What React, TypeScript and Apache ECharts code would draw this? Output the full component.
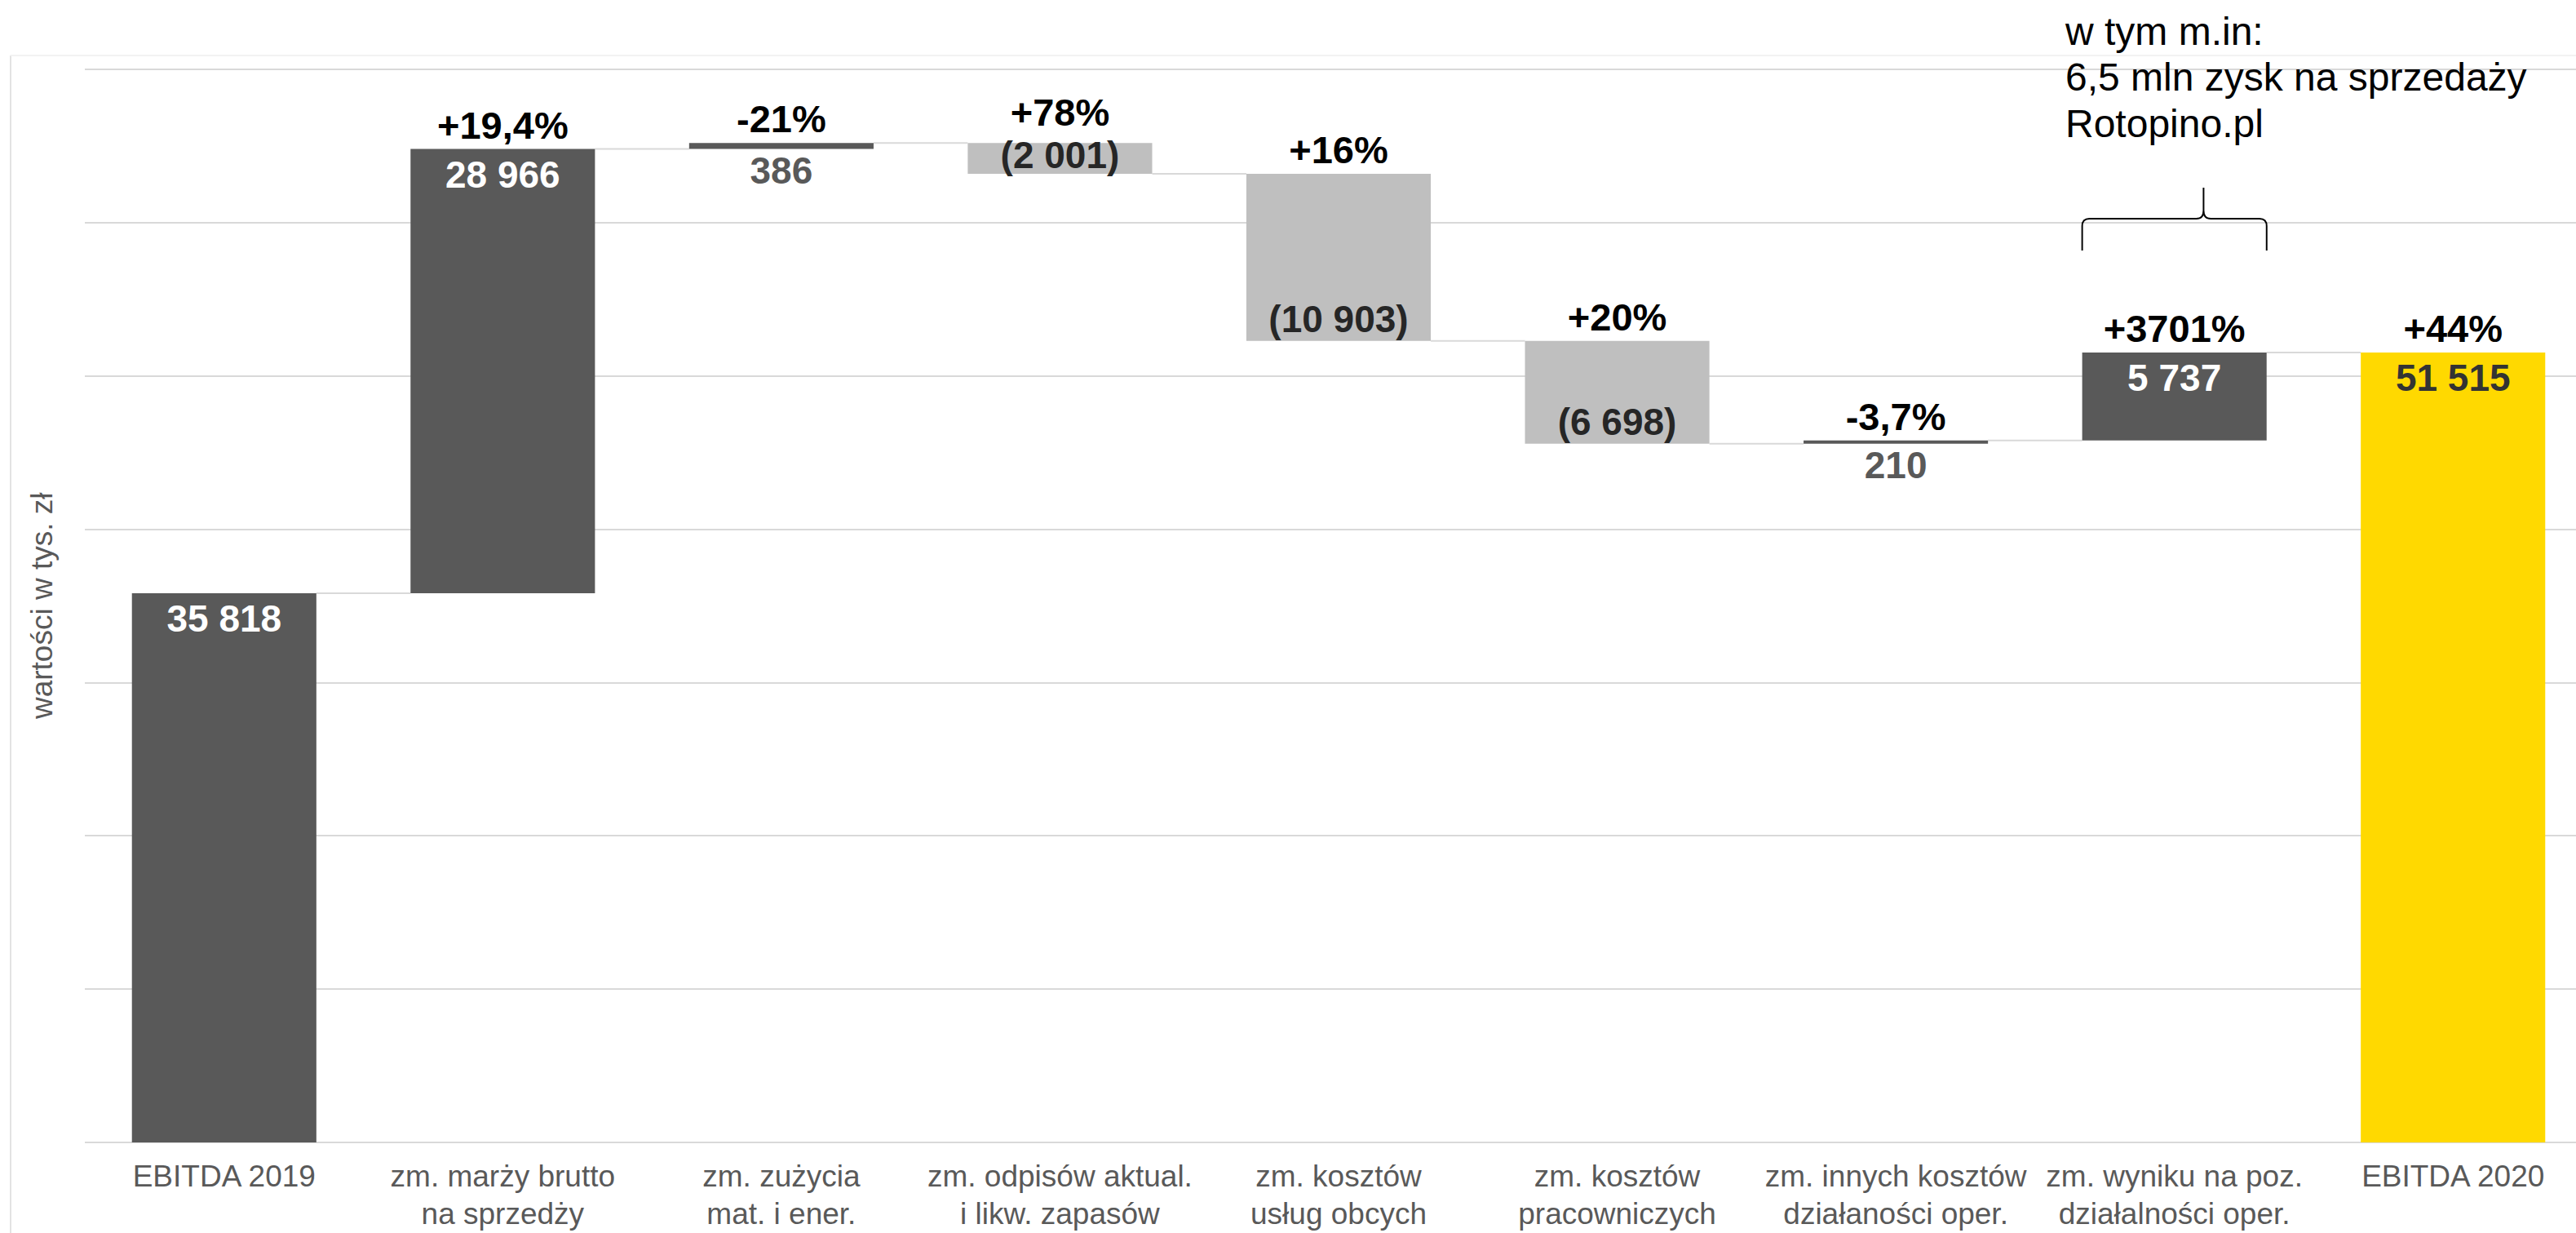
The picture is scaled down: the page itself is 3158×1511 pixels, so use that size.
import React, { useEffect, useRef } from "react";
import * as echarts from "echarts";

const categories = [
  "EBITDA 2019",
  "zm. marży brutto\nna sprzedży",
  "zm. zużycia\nmat. i ener.",
  "zm. odpisów aktual.\ni likw. zapasów",
  "zm. kosztów\nusług obcych",
  "zm. kosztów\npracowniczych",
  "zm. innych kosztów\ndziałaności oper.",
  "zm. wyniku na poz.\ndziałalności oper.",
  "EBITDA 2020",
];
const startValue = 35818;
const deltas = [28966, 386, -2001, -10903, -6698, 210, 5737];
const endValue = 51515;
const pctLabels = ["", "+19,4%", "-21%", "+78%", "+16%", "+20%", "-3,7%", "+3701%", "+44%"];
const yMin = 0;
const yMax = 70000;
const yInterval = 10000;
const yAxisName = "wartości w tys. zł";
const annotationLines = ["w tym m.in:", "6,5 mln zysk na sprzedaży", "Rotopino.pl"];
const annotatedIndex = 7;

const FONT = "'Liberation Sans', Arial, sans-serif";
const DARK = "#595959";
const LIGHT = "#bfbfbf";
const YELLOW = "#FFD900";
const GRID_COLOR = "#d9d9d9";

// brace shape, local units: width 231, height 77, tip at x=152
const BRACE_W = 231;
const BRACE_TIP = 152;
const braceD = `M0 77 L0 47 Q0 38 9 38 L${BRACE_TIP - 9} 38 Q${BRACE_TIP} 38 ${BRACE_TIP} 28 L${BRACE_TIP} 0 M${BRACE_TIP} 28 Q${BRACE_TIP} 38 ${BRACE_TIP + 9} 38 L${BRACE_W - 9} 38 Q${BRACE_W} 38 ${BRACE_W} 47 L${BRACE_W} 77`;
echarts.graphic.registerShape("brace", echarts.graphic.extendPath(braceD, {}));

function fmt(n: number): string {
  const s = String(Math.abs(n)).replace(/\B(?=(\d{3})+(?!\d))/g, " ");
  return n < 0 ? `(${s})` : s;
}

type Item = { base: number; h: number; signed: number; kind: string; end: number };

function buildItems(): Item[] {
  const items: Item[] = [{ base: 0, h: startValue, signed: startValue, kind: "start", end: startValue }];
  let cum = startValue;
  for (const d of deltas) {
    const base = d >= 0 ? cum : cum + d;
    cum += d;
    items.push({ base, h: Math.abs(d), signed: d, kind: d >= 0 ? "pos" : "neg", end: cum });
  }
  items.push({ base: 0, h: endValue, signed: endValue, kind: "end", end: endValue });
  return items;
}

export default function App() {
  const ref = useRef<HTMLDivElement>(null);
  useEffect(() => {
    if (!ref.current) return;
    const chart = echarts.init(ref.current, undefined, { renderer: "svg" });
    const items = buildItems();
    const thin = (it: Item) => it.h < 1500;

    const valueData = items.map((it) => {
      let color = DARK;
      let label: any = { position: "insideTop", color: "#ffffff", distance: 8 };
      if (it.kind === "end") {
        color = YELLOW;
        label = { position: "insideTop", color: "#333333", distance: 8 };
      } else if (it.kind === "neg") {
        color = LIGHT;
        label = { position: "insideBottom", color: "#262626", distance: it.h < 3000 ? 0 : 4 };
      } else if (thin(it)) {
        label = { position: "bottom", color: DARK, distance: 3 };
      }
      return {
        value: it.h,
        itemStyle: { color },
        label: { show: true, formatter: fmt(it.signed), ...label },
      };
    });

    const pctData = items.map((it, i) => ({
      value: 0,
      label: {
        show: pctLabels[i] !== "",
        formatter: pctLabels[i],
        position: "top",
        distance: it.kind === "neg" && it.h < 3000 ? 14 : 6,
      },
    }));

    const connData = items.slice(0, -1).map((it, i) => [i, it.end]);

    const labelFont = { fontFamily: FONT, fontWeight: "bold", fontSize: 46 };

    chart.setOption({
      animation: false,
      backgroundColor: "#ffffff",
      grid: { left: 104, right: 0, top: 84.6, bottom: 111, containLabel: false },
      xAxis: {
        type: "category",
        data: categories,
        axisLine: { show: false },
        axisTick: { show: false },
        axisLabel: {
          interval: 0,
          color: "#595959",
          fontFamily: FONT,
          fontSize: 37,
          lineHeight: 46,
          margin: 18,
        },
      },
      yAxis: {
        type: "value",
        min: yMin,
        max: yMax,
        interval: yInterval,
        axisLabel: { show: false },
        axisLine: { show: false },
        axisTick: { show: false },
        splitLine: { lineStyle: { color: GRID_COLOR, width: 2 } },
        name: yAxisName,
        nameLocation: "middle",
        nameRotate: 90,
        nameGap: 34,
        nameTextStyle: { color: "#595959", fontFamily: FONT, fontSize: 37 },
      },
      series: [
        {
          type: "custom",
          z: 1,
          silent: true,
          data: connData,
          encode: { x: 0, y: 1 },
          renderItem: (params: any, api: any) => {
            const i = api.value(0);
            const lvl = api.value(1);
            const p = api.coord([i, lvl]);
            const bw = api.size([1, 0])[0];
            const half = bw * 0.331;
            return {
              type: "line",
              shape: { x1: p[0] + half, y1: p[1], x2: p[0] + bw - half, y2: p[1] },
              style: { stroke: GRID_COLOR, lineWidth: 2 },
            };
          },
        },
        {
          type: "bar",
          stack: "w",
          silent: true,
          barCategoryGap: "33.8%",
          z: 2,
          itemStyle: { color: "rgba(0,0,0,0)" },
          data: items.map((it) => it.base),
        },
        {
          type: "bar",
          stack: "w",
          barCategoryGap: "33.8%",
          z: 3,
          label: { ...labelFont },
          data: valueData,
        },
        {
          type: "bar",
          stack: "w",
          barCategoryGap: "33.8%",
          z: 4,
          itemStyle: { color: "rgba(0,0,0,0)" },
          label: { ...labelFont, fontSize: 47, color: "#000000" },
          data: pctData,
        },
      ],
    });

    // annotation brace anchored to the annotated category
    const cx = chart.convertToPixel({ xAxisIndex: 0 }, annotatedIndex) as number;
    const cx2 = chart.convertToPixel({ xAxisIndex: 0 }, annotatedIndex + 1) as number;
    const band = cx2 - cx;
    const bw = band * 0.662;
    const sx = bw / BRACE_W;
    chart.setOption({
      graphic: [
        {
          type: "line",
          silent: true,
          shape: { x1: 13, y1: 68, x2: 13, y2: 1600 },
          style: { stroke: "#e3e3e3", lineWidth: 2 },
        },
        {
          type: "line",
          silent: true,
          shape: { x1: 13, y1: 68, x2: 3300, y2: 68 },
          style: { stroke: "#f2f2f2", lineWidth: 2 },
        },
        {
          type: "brace",
          silent: true,
          x: cx - bw / 2,
          y: 230,
          scaleX: sx,
          scaleY: 1,
          style: { stroke: "#000000", fill: "none", lineWidth: 2, strokeNoScale: true },
        },
        {
          type: "text",
          silent: true,
          x: 2532,
          y: 10,
          style: {
            text: annotationLines.join("\n"),
            font: `48px ${FONT}`,
            fill: "#000000",
            lineHeight: 56.5,
            textAlign: "left",
            textVerticalAlign: "top",
          },
        },
      ],
    });

    return () => chart.dispose();
  }, []);

  return (
    <div
      ref={ref}
      style={{ position: "fixed", left: 0, top: 0, width: 3178, height: 1511, background: "#fff" }}
    />
  );
}
